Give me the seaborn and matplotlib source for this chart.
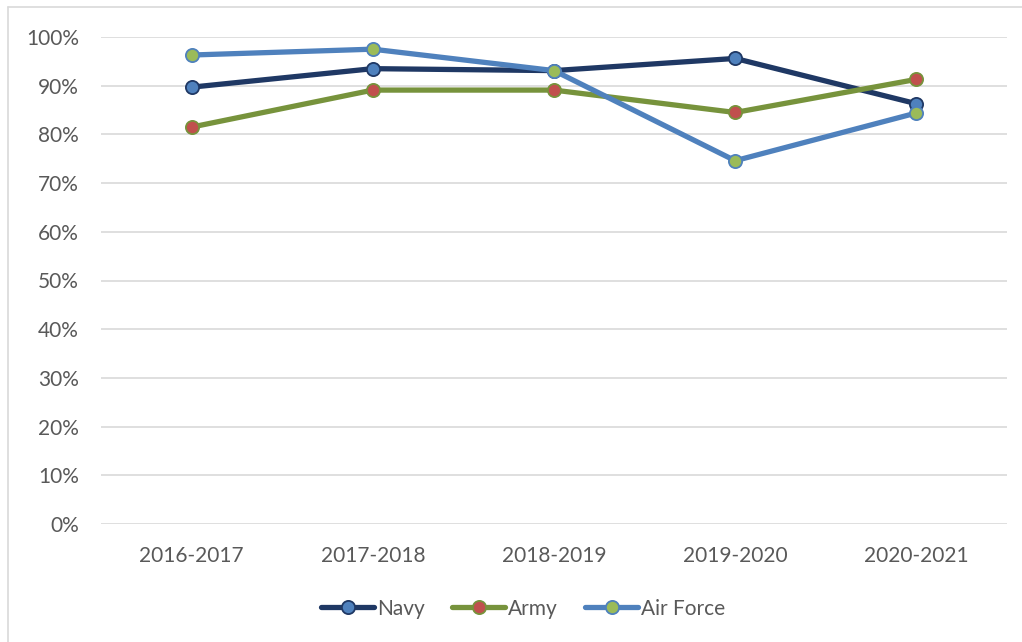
import pandas as pd
import matplotlib.pyplot as plt
import seaborn as sns
from matplotlib.lines import Line2D
from matplotlib.ticker import PercentFormatter

# ── Data ──────────────────────────────────────────────────────────────────────
years     = ['2016-2017', '2017-2018', '2018-2019', '2019-2020', '2020-2021']
navy      = [0.897, 0.935, 0.931, 0.956, 0.863]
army      = [0.815, 0.891, 0.891, 0.845, 0.913]
air_force = [0.963, 0.975, 0.931, 0.746, 0.844]

series = [
    ('Navy',      navy,      '#1F3864', '#4F81BD'),
    ('Army',      army,      '#77933C', '#C0504D'),
    ('Air Force', air_force, '#4F81BD', '#9BBB59'),
]

# ── Style ─────────────────────────────────────────────────────────────────────
sns.set_theme(style='white')
plt.rcParams['font.family'] = ['Lato', 'DejaVu Sans']

fig = plt.figure(figsize=(10.22, 6.42), dpi=100)
ax = fig.add_axes([101 / 1022, 1 - 524 / 642, 906 / 1022, 487 / 642])

# chart-area border (left and top only visible)
fig.add_artist(Line2D([8 / 1022, 8 / 1022], [0, 1 - 7 / 642],
                      color='#D9D9D9', lw=1.2, transform=fig.transFigure))
fig.add_artist(Line2D([8 / 1022, 1], [1 - 7 / 642, 1 - 7 / 642],
                      color='#D9D9D9', lw=1.2, transform=fig.transFigure))

# ── Lines ─────────────────────────────────────────────────────────────────────
for name, vals, line_c, face_c in series:
    df = pd.DataFrame({'year': years, 'share': vals})
    sns.lineplot(data=df, x='year', y='share', ax=ax, sort=False,
                 color=line_c, lw=3.8, marker='o', markersize=9.5,
                 markerfacecolor=face_c, markeredgecolor=line_c,
                 markeredgewidth=1.3, label=name)

ax.set_ylim(0, 1.0)
ax.set_xlim(-0.5, 4.5)
ax.set_yticks([i / 10 for i in range(11)])
ax.yaxis.set_major_formatter(PercentFormatter(1.0, decimals=0))
ax.grid(axis='y', color='#D9D9D9', lw=1.2)
ax.set_axisbelow(True)
for sp in ax.spines.values():
    sp.set_visible(False)
ax.tick_params(axis='y', length=0, pad=16, labelsize=15, labelcolor='#595959')
ax.tick_params(axis='x', length=0, pad=16, labelsize=15, labelcolor='#595959')
ax.set_xlabel('')
ax.set_ylabel('')

ax.legend(loc='center', bbox_to_anchor=(0.512, 0.052), bbox_transform=fig.transFigure,
          ncol=3, frameon=False, fontsize=15, handlelength=2.55,
          columnspacing=1.3, handletextpad=0.15, labelcolor='#595959')

plt.savefig('out.png', dpi=100)
plt.close()
